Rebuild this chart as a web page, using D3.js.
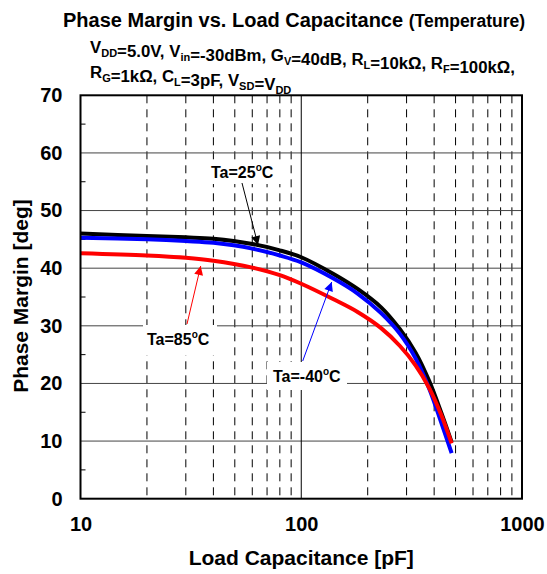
<!DOCTYPE html>
<html><head><meta charset="utf-8">
<script src="https://cdn.jsdelivr.net/npm/d3@7"></script>
<style>body{margin:0;background:#fff}text{font-family:"Liberation Sans",Arial,sans-serif;font-weight:bold}</style>
</head><body><svg id="c" width="547" height="574"></svg>
<script>
const capacitance = [10, 20, 30, 40, 60, 80, 100, 140, 180, 230, 280, 330, 380, 430, 480];
const pm25 = [46.0, 45.6, 45.35, 45.1, 44.2, 43.1, 41.9, 39.0, 36.4, 33.2, 29.4, 25.3, 20.4, 15.0, 9.8];
const pmM40 = [45.3, 45.0, 44.7, 44.4, 43.4, 42.2, 41.0, 38.2, 35.6, 32.2, 28.6, 24.3, 19.1, 13.3, 7.9];
const pm85 = [42.6, 42.2, 41.8, 41.3, 40.1, 38.8, 37.3, 34.6, 32.4, 29.6, 26.5, 23.1, 19.2, 14.6, 9.6];
const xTicks = [10, 100, 1000];
const yTicks = [0, 10, 20, 30, 40, 50, 60, 70];
const seriesNames = ["Ta=25", "Ta=-40", "Ta=85"];
const seriesColors = ["#000000", "#0000ff", "#ff0000"];

const svg = d3.select("#c");
const x = d3.scaleLog().domain([10, 1000]).range([80.5, 522]);
const y = d3.scaleLinear().domain([0, 70]).range([498.7, 95.3]);

// minor vertical dashed grid
const minors = [];
[10, 100].forEach(d => { for (let k = 2; k <= 9; k++) minors.push(d * k); });
svg.append("g").selectAll("line").data(minors).join("line")
  .attr("x1", d => x(d)).attr("x2", d => x(d)).attr("y1", y(70)).attr("y2", y(0))
  .attr("stroke", "#000").attr("stroke-width", 1).attr("stroke-dasharray", "8,6");
// horizontal major grid
svg.append("g").selectAll("line").data(yTicks.filter(v => v > 0 && v < 70)).join("line")
  .attr("x1", x(10)).attr("x2", x(1000)).attr("y1", d => y(d)).attr("y2", d => y(d))
  .attr("stroke", "#444").attr("stroke-width", 1);
// vertical at 100
svg.append("line").attr("x1", x(100)).attr("x2", x(100)).attr("y1", y(70)).attr("y2", y(0))
  .attr("stroke", "#000").attr("stroke-width", 1);
// minor y ticks on left
svg.append("g").selectAll("line").data(d3.range(5, 70, 10)).join("line")
  .attr("x1", x(10)).attr("x2", x(10) + 5).attr("y1", d => y(d)).attr("y2", d => y(d))
  .attr("stroke", "#000").attr("stroke-width", 1);

// white label boxes
const boxes = [[205, 160, 82, 24], [143, 325, 74, 30], [267, 362, 80, 28]];
svg.append("g").selectAll("rect").data(boxes).join("rect")
  .attr("x", d => d[0]).attr("y", d => d[1]).attr("width", d => d[2]).attr("height", d => d[3]).attr("fill", "#fff");

// curves
const line = d3.line().x(d => x(d[0])).y(d => y(d[1])).curve(d3.curveCatmullRom.alpha(0.5));
const allSeries = [pm25, pmM40, pm85];
allSeries.forEach((s, i) => {
  svg.append("path").datum(capacitance.map((c, j) => [c, s[j]]))
    .attr("d", line).attr("fill", "none").attr("stroke", seriesColors[i])
    .attr("stroke-width", 4).attr("stroke-linejoin", "round");
});

// frame
svg.append("rect").attr("x", x(10)).attr("y", y(70)).attr("width", x(1000) - x(10)).attr("height", y(0) - y(70))
  .attr("fill", "none").attr("stroke", "#000").attr("stroke-width", 2);

// axes labels via d3 axes
const yAxis = d3.axisLeft(y).tickValues(yTicks).tickSize(0).tickPadding(18).tickFormat(d3.format("d"));
const gy = svg.append("g").attr("transform", `translate(${x(10)},0)`).call(yAxis);
gy.select(".domain").remove();
gy.selectAll("text").attr("font-size", 20).attr("font-family", '"Liberation Sans",Arial,sans-serif').attr("font-weight", "bold").attr("fill", "#000");
const xAxis = d3.axisBottom(x).tickValues(xTicks).tickSize(0).tickPadding(18).tickFormat(d3.format("d"));
const gx = svg.append("g").attr("transform", `translate(0,${y(0)})`).call(xAxis);
gx.select(".domain").remove();
gx.selectAll("text").attr("font-size", 20).attr("font-family", '"Liberation Sans",Arial,sans-serif').attr("font-weight", "bold").attr("fill", "#000");

svg.append("text").attr("x", x(100)).attr("y", 565).attr("text-anchor", "middle").attr("font-size", 21).text("Load Capacitance [pF]");
svg.append("text").attr("transform", "translate(28,296) rotate(-90)").attr("text-anchor", "middle").attr("font-size", 21).text("Phase Margin [deg]");

// title
const t = svg.append("text").attr("x", 63).attr("y", 27).attr("font-size", 20);
t.append("tspan").text("Phase Margin vs. Load Capacitance ");
t.append("tspan").attr("font-size", 17.5).text("(Temperature)");

function sub(el, parts) {
  parts.forEach(p => {
    if (typeof p === "string") el.append("tspan").text(p);
    else { el.append("tspan").attr("font-size", 11).attr("dy", 4).text(p[0]); el.append("tspan").attr("dy", -4).text(""); }
  });
}
const s1 = svg.append("text").attr("x", 90).attr("y", 53).attr("font-size", 16.8);
sub(s1, ["V", ["DD"], "=5.0V, V", ["in"], "=-30dBm, G", ["V"], "=40dB, R", ["L"], "=10kΩ, R", ["F"], "=100kΩ,"]);
const s2 = svg.append("text").attr("x", 90).attr("y", 78).attr("font-size", 16.8);
sub(s2, ["R", ["G"], "=1kΩ, C", ["L"], "=3pF, V", ["SD"], "=V", ["DD"]]);

// annotations
svg.append("defs").selectAll("marker").data(seriesColors).join("marker")
  .attr("id", (d, i) => "ah" + i).attr("viewBox", "0 0 10 10").attr("refX", 10).attr("refY", 5)
  .attr("markerWidth", 13).attr("markerHeight", 9).attr("markerUnits", "userSpaceOnUse").attr("orient", "auto")
  .append("path").attr("d", "M0,0L10,5L0,10Z").attr("fill", d => d);
const annos = [
  {lbl: "25", tx: 211, ty: 178, a: [242, 183, 258, 245], c: 0},
  {lbl: "-40", tx: 273, ty: 382, a: [302.7, 361, 331.7, 282], c: 1},
  {lbl: "85", tx: 147, ty: 345, a: [187, 324, 200.7, 266], c: 2}
];
annos.forEach(a => {
  svg.append("line").attr("x1", a.a[0]).attr("y1", a.a[1]).attr("x2", a.a[2]).attr("y2", a.a[3])
    .attr("stroke", seriesColors[a.c]).attr("stroke-width", 1).attr("marker-end", `url(#ah${a.c})`);
  const tt = svg.append("text").attr("x", a.tx).attr("y", a.ty).attr("font-size", 16);
  tt.append("tspan").text("Ta=" + a.lbl);
  tt.append("tspan").attr("font-size", 10).attr("dy", -7).text("o");
  tt.append("tspan").attr("dy", 7).text("C");
});
</script></body></html>
